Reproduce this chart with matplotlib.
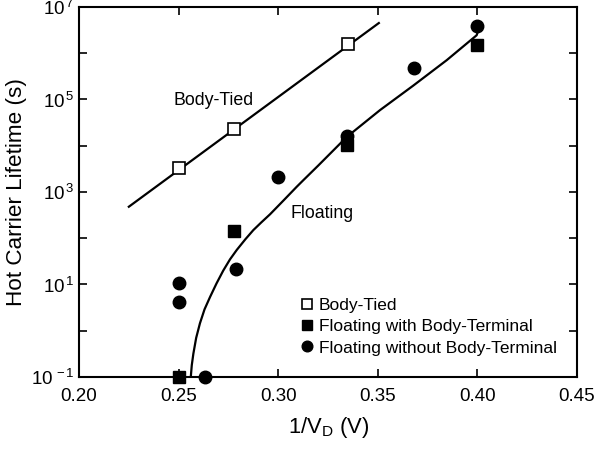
import math
import matplotlib.pyplot as plt
from matplotlib.ticker import FixedLocator, FuncFormatter

plt.rcParams['font.family'] = ['Liberation Sans', 'DejaVu Sans']
plt.rcParams['mathtext.fontset'] = 'custom'
plt.rcParams['mathtext.rm'] = 'Liberation Sans'
plt.rcParams['mathtext.it'] = 'Liberation Sans'

# Body-Tied devices
tied_x = [0.250, 0.278, 0.335]
tied_y = [3.3e3, 2.3e4, 1.55e6]
tied_fit_x = [0.225, 0.3505]
tied_fit_y = [4.8e2, 4.5e6]

# Floating with body terminal
fwb_x = [0.250, 0.278, 0.3345, 0.400]
fwb_y = [1.0e-1, 1.45e2, 1.05e4, 1.5e6]

# Floating without body terminal
fnb_x = [0.250, 0.250, 0.263, 0.279, 0.300, 0.3345, 0.368, 0.400]
fnb_y = [1.1e1, 4.2e0, 1.0e-1, 2.2e1, 2.1e3, 1.6e4, 4.7e5, 3.9e6]

# Floating fit curve
float_fit_x = [0.2561, 0.2566, 0.2574, 0.2588, 0.2607, 0.2630, 0.2658,
               0.2690, 0.2724, 0.2758, 0.2792, 0.2835, 0.2875, 0.2915,
               0.2959, 0.3030, 0.3093, 0.3126, 0.3200, 0.3344, 0.3511,
               0.3678, 0.3846, 0.3996, 0.4005]
float_fit_y = [1.0e-1, 1.8e-1, 3.2e-1, 7.0e-1, 1.45e0, 2.9e0, 5.4e0,
               1.05e1, 2.0e1, 3.5e1, 5.6e1, 9.5e1, 1.5e2, 2.2e2,
               3.3e2, 6.8e2, 1.3e3, 1.8e3, 3.7e3, 1.55e4, 5.9e4,
               2.0e5, 7.1e5, 2.45e6, 3.2e6]

fig = plt.figure(figsize=(5.96, 4.49), dpi=100)
ax = fig.add_axes([0.1326, 0.1604, 0.8356, 0.824])

ax.plot(tied_fit_x, tied_fit_y, color='black', lw=1.6)
ax.plot(float_fit_x, float_fit_y, color='black', lw=1.6)

ax.plot(tied_x, tied_y, 's', ms=8.5, mfc='white', mec='black', mew=1.2,
        label='Body-Tied', clip_on=False, zorder=3)
ax.plot(fwb_x, fwb_y, 's', ms=8, color='black',
        label='Floating with Body-Terminal', clip_on=False, zorder=3)
ax.plot(fnb_x, fnb_y, 'o', ms=9, color='black',
        label='Floating without Body-Terminal', clip_on=False, zorder=3)

ax.set_yscale('log')
ax.set_xlim(0.20, 0.45)
ax.set_ylim(1e-1, 1e7)

ax.xaxis.set_major_locator(FixedLocator([0.20, 0.25, 0.30, 0.35, 0.40, 0.45]))
ax.xaxis.set_major_formatter(FuncFormatter(lambda v, p: '%.2f' % v))
ax.yaxis.set_major_locator(FixedLocator([10.0 ** e for e in range(-1, 8)]))
ax.yaxis.set_minor_locator(FixedLocator([]))


def ylab(v, p):
    e = int(round(math.log10(v)))
    if e % 2 == 0:
        return ''
    return r'$\mathregular{10^{\,%d}}$' % e


ax.yaxis.set_major_formatter(FuncFormatter(ylab))
ax.tick_params(which='both', direction='in', top=True, right=True,
               length=6, width=1.2, labelsize=13.5)
ax.tick_params(axis='x', pad=8)
ax.tick_params(axis='y', pad=3)
for s in ax.spines.values():
    s.set_linewidth(1.5)

ax.set_xlabel(r'1/V$_\mathregular{D}$ (V)', fontsize=15.8, labelpad=7)
ax.set_ylabel('Hot Carrier Lifetime (s)', fontsize=16.2)
ax.yaxis.set_label_coords(-0.104, 0.5)

ax.text(0.2673, 9.3e4, 'Body-Tied', fontsize=12.8, ha='center', va='center')
ax.text(0.306, 3.5e2, 'Floating', fontsize=12.8, ha='left', va='center')

ax.legend(loc='lower left', bbox_to_anchor=(0.443, 0.058), frameon=False,
          fontsize=12.5, handlelength=0.8, handletextpad=0.3, labelspacing=0.35,
          borderpad=0, borderaxespad=0, markerscale=0.85)

fig.savefig('out.png', dpi=100)
